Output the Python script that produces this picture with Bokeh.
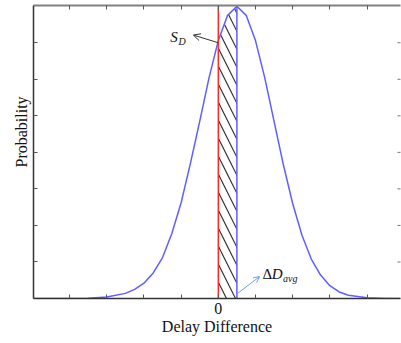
from bokeh.plotting import figure
from bokeh.models import (Range1d, FixedTicker, LinearAxis, Label, Arrow, OpenHead,
                          Title, CustomLabelingPolicy)
from bokeh.embed import file_html
from bokeh.resources import INLINE

# ---- data ----
delay_diff = [-5.0, -4.0, -3.5, -3.0, -2.5, -2.25, -2.0, -1.75, -1.5, -1.25, -1.0, -0.75, -0.5, -0.25,
              0.0, 0.25, 0.5, 0.75, 1.0, 1.25, 1.5, 1.75, 2.0, 2.25, 2.5, 2.75, 3.0, 3.25, 3.5, 4.0, 4.5, 4.9]
probability = [0.0, 0.0, 0.01, 0.04, 0.14, 0.25, 0.42, 0.70, 1.12, 1.78, 2.62, 3.70, 4.85, 6.04,
               7.06, 7.75, 8.0, 7.75, 7.06, 6.04, 4.85, 3.66, 2.60, 1.73, 1.08, 0.64, 0.35, 0.18, 0.09, 0.02, 0.0, 0.0]
zero_line = 0.0
delta_d_avg = 0.5
x_ticks = [-4, -3, -2, -1, 0, 1, 2, 3, 4]
y_ticks = [1, 2, 3, 4, 5, 6, 7]
x_tick_labels = {-4: "", -3: "", -2: "", -1: "", 0: "0", 1: "", 2: "", 3: "", 4: ""}

SERIF = "Liberation Serif"
BLUE = "#5f5fff"
RED = "#ff2a2a"
DARK = "#111111"

no_labels = CustomLabelingPolicy(code="""
const all = Array.from(indices)
for (const i of all) { indices.unset(i) }
return indices
""")
only_zero = CustomLabelingPolicy(code="""
const all = Array.from(indices)
for (const i of all) { if (i != 4) indices.unset(i) }
return indices
""")

p = figure(width=401, height=343, output_backend="svg", toolbar_location=None,
           x_range=Range1d(-4.97, 4.9), y_range=Range1d(0, 8.02),
           min_border_left=33, min_border_right=1, min_border_top=5, min_border_bottom=45)
p.grid.visible = False
p.outline_line_color = None
p.background_fill_color = "white"
p.border_fill_color = "white"

# axes
xa = p.xaxis[0]
ya = p.yaxis[0]
xa.ticker = FixedTicker(ticks=x_ticks)
xa.major_label_overrides = x_tick_labels
xa.major_label_policy = only_zero
xa.axis_label = "Delay Difference"
ya.ticker = FixedTicker(ticks=y_ticks)
ya.major_label_policy = no_labels
ya.major_label_text_font_size = "1px"
ya.major_label_standoff = 0
for ax in (xa, ya):
    ax.major_tick_in = 4
    ax.major_tick_out = 0
    ax.minor_tick_in = 0
    ax.minor_tick_out = 0
    ax.axis_line_color = "#333333"
    ax.axis_line_width = 1.5
    ax.major_tick_line_color = "#555555"
    ax.major_label_text_font = SERIF
xa.major_label_text_font_size = "16px"
xa.major_label_text_color = DARK
xa.major_label_standoff = 4
xa.axis_label_text_font = SERIF
xa.axis_label_text_font_style = "normal"
xa.axis_label_text_font_size = "16px"
xa.axis_label_text_color = DARK
xa.axis_label_standoff = 1

top = LinearAxis(ticker=FixedTicker(ticks=x_ticks), major_label_policy=no_labels,
                 major_label_text_font_size="1px", major_label_standoff=0,
                 major_tick_in=4, major_tick_out=0, minor_tick_in=0, minor_tick_out=0,
                 axis_line_color="#808080", axis_line_width=2, major_tick_line_color="#555555")
p.add_layout(top, "above")

# right-hand inward ticks (small dashes on the right frame edge)
p.scatter(x=[p.x_range.end] * len(y_ticks), y=y_ticks, marker="dash", size=6,
          line_color="#777777", line_width=1)

# y axis title, placed above centre like the reference
p.add_layout(Title(text="Probability", align="left", offset=131, standoff=0,
                   text_font=SERIF, text_font_style="normal", text_font_size="16px",
                   text_color=DARK), "left")

# hatched area between zero line and average delay
hx = [x for x in delay_diff if zero_line <= x <= delta_d_avg]
hy = [y for x, y in zip(delay_diff, probability) if zero_line <= x <= delta_d_avg]
p.varea(x=hx, y1=[0] * len(hx), y2=hy, fill_color=None, fill_alpha=0,
        hatch_pattern="\\", hatch_color="#333333", hatch_scale=18, hatch_weight=1.2)

# curve
p.line(delay_diff, probability, line_color=BLUE, line_width=1.5)
# vertical lines
p.segment(x0=[zero_line], y0=[0], x1=[zero_line], y1=[8.02], line_color=RED, line_width=1.5)
peak = max(probability)
p.segment(x0=[delta_d_avg], y0=[0], x1=[delta_d_avg], y1=[peak], line_color=BLUE, line_width=1.5)

# annotations
p.add_layout(Arrow(end=OpenHead(size=7, line_color="#333333", line_width=1),
                   x_start=0.0, y_start=7.0, x_end=-0.67, y_end=7.21,
                   line_color="#333333", line_width=1))
p.add_layout(Label(x=-1.29, y=7.16, text="S", text_font=SERIF, text_font_style="italic",
                   text_font_size="15px", text_color=DARK, text_baseline="alphabetic"))
p.add_layout(Label(x=-1.07, y=7.04, text="D", text_font=SERIF, text_font_style="italic",
                   text_font_size="10px", text_color=DARK, text_baseline="alphabetic"))

p.add_layout(Arrow(end=OpenHead(size=6, line_color="#6f9ee8", line_width=1),
                   x_start=0.52, y_start=0.14, x_end=1.11, y_end=0.6,
                   line_color="#6f9ee8", line_width=1))
p.add_layout(Label(x=1.19, y=0.68, text="Δ", text_font=SERIF, text_font_size="15px",
                   text_color=DARK, text_baseline="alphabetic"))
p.add_layout(Label(x=1.44, y=0.68, text="D", text_font=SERIF, text_font_style="italic",
                   text_font_size="15px", text_color=DARK, text_baseline="alphabetic"))
p.add_layout(Label(x=1.74, y=0.56, text="avg", text_font=SERIF, text_font_style="italic",
                   text_font_size="10px", text_color=DARK, text_baseline="alphabetic"))

open("out.html", "w").write(file_html(p, INLINE))
